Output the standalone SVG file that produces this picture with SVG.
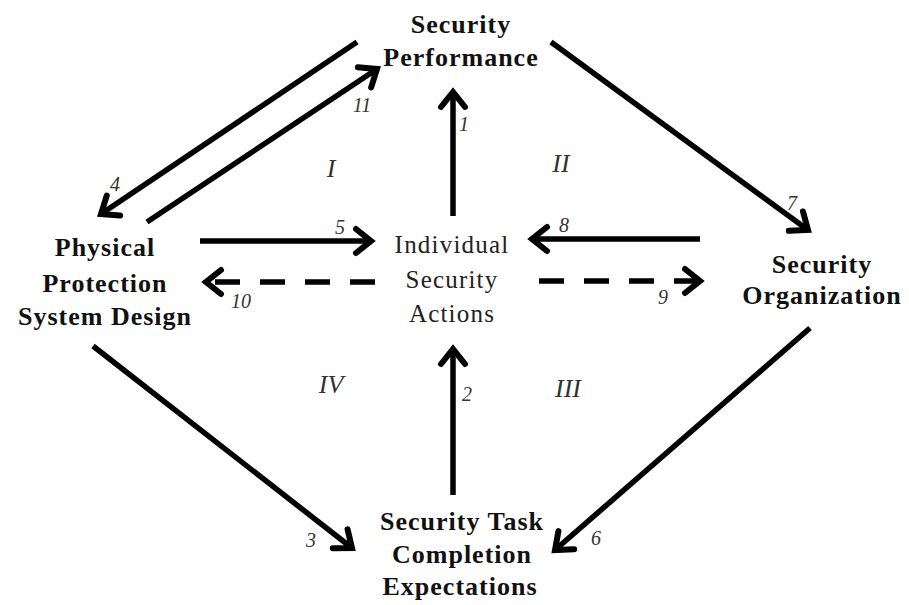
<svg xmlns="http://www.w3.org/2000/svg" width="909" height="605" viewBox="0 0 909 605">
<style>
.nb{font-family:"Liberation Serif","DejaVu Serif",serif;font-weight:bold;font-size:26px;letter-spacing:1px;fill:#111;text-anchor:middle}
.nn{font-family:"Liberation Serif","DejaVu Serif",serif;font-size:25px;letter-spacing:1.2px;fill:#222;text-anchor:middle}
.lb{font-family:"Liberation Serif","DejaVu Serif",serif;font-style:italic;font-size:20px;fill:#333;text-anchor:middle}
.rn{font-family:"Liberation Serif","DejaVu Serif",serif;font-style:italic;font-size:26px;fill:#333;text-anchor:middle}
.ln{stroke:#000;stroke-width:5.5;fill:none;stroke-linecap:butt}
.ds{stroke-dasharray:25,20}
</style>
<defs>
<marker id="ah" viewBox="-22 -18 28 36" refX="0" refY="0" markerWidth="28" markerHeight="36" markerUnits="userSpaceOnUse" orient="auto" overflow="visible">
<path d="M-15,-12 L0,0 L-15,12" fill="none" stroke="#000" stroke-width="6" stroke-linecap="round" stroke-linejoin="miter"/>
</marker>
</defs>
<g id="connectors">
<line class="ln" x1="453" y1="216" x2="453" y2="92" marker-end="url(#ah)"/>
<line class="ln" x1="453" y1="495" x2="453" y2="349" marker-end="url(#ah)"/>
<line class="ln" x1="200" y1="241" x2="371" y2="241" marker-end="url(#ah)"/>
<line class="ln ds" x1="375" y1="282" x2="206" y2="282" marker-end="url(#ah)"/>
<line class="ln" x1="700" y1="239" x2="532" y2="239" marker-end="url(#ah)"/>
<line class="ln ds" x1="539" y1="281" x2="700" y2="281" marker-end="url(#ah)"/>
<line class="ln" x1="357" y1="42" x2="101" y2="214" marker-end="url(#ah)"/>
<line class="ln" x1="147" y1="222" x2="377" y2="69" marker-end="url(#ah)"/>
<line class="ln" x1="551" y1="42" x2="808" y2="230" marker-end="url(#ah)"/>
<line class="ln" x1="810" y1="328" x2="555" y2="550" marker-end="url(#ah)"/>
<line class="ln" x1="93" y1="346" x2="352" y2="548" marker-end="url(#ah)"/>
</g>
<g id="edge-labels">
<text class="lb" x="464" y="131">1</text>
<text class="lb" x="467" y="401">2</text>
<text class="lb" x="311" y="547">3</text>
<text class="lb" x="115" y="191">4</text>
<text class="lb" x="340" y="234">5</text>
<text class="lb" x="596" y="545">6</text>
<text class="lb" x="792" y="210">7</text>
<text class="lb" x="564" y="232">8</text>
<text class="lb" x="663" y="304">9</text>
<text class="lb" x="241" y="308">10</text>
<text class="lb" x="362" y="112">11</text>
</g>
<g id="regions">
<text class="rn" x="331" y="177">I</text>
<text class="rn" x="561" y="172">II</text>
<text class="rn" x="568" y="397">III</text>
<text class="rn" x="331" y="393">IV</text>
</g>
<g id="node-performance">
<text class="nb" x="461" y="33">Security</text>
<text class="nb" x="461" y="66">Performance</text>
</g>
<g id="node-physical">
<text class="nb" x="105" y="256">Physical</text>
<text class="nb" x="105" y="292">Protection</text>
<text class="nb" x="105" y="325">System Design</text>
</g>
<g id="node-actions">
<text class="nn" x="452" y="253">Individual</text>
<text class="nn" x="452" y="288">Security</text>
<text class="nn" x="452" y="322">Actions</text>
</g>
<g id="node-organization">
<text class="nb" x="822" y="273">Security</text>
<text class="nb" x="822" y="304">Organization</text>
</g>
<g id="node-expectations">
<text class="nb" x="462" y="530">Security Task</text>
<text class="nb" x="462" y="563">Completion</text>
<text class="nb" x="460" y="595">Expectations</text>
</g>
</svg>
